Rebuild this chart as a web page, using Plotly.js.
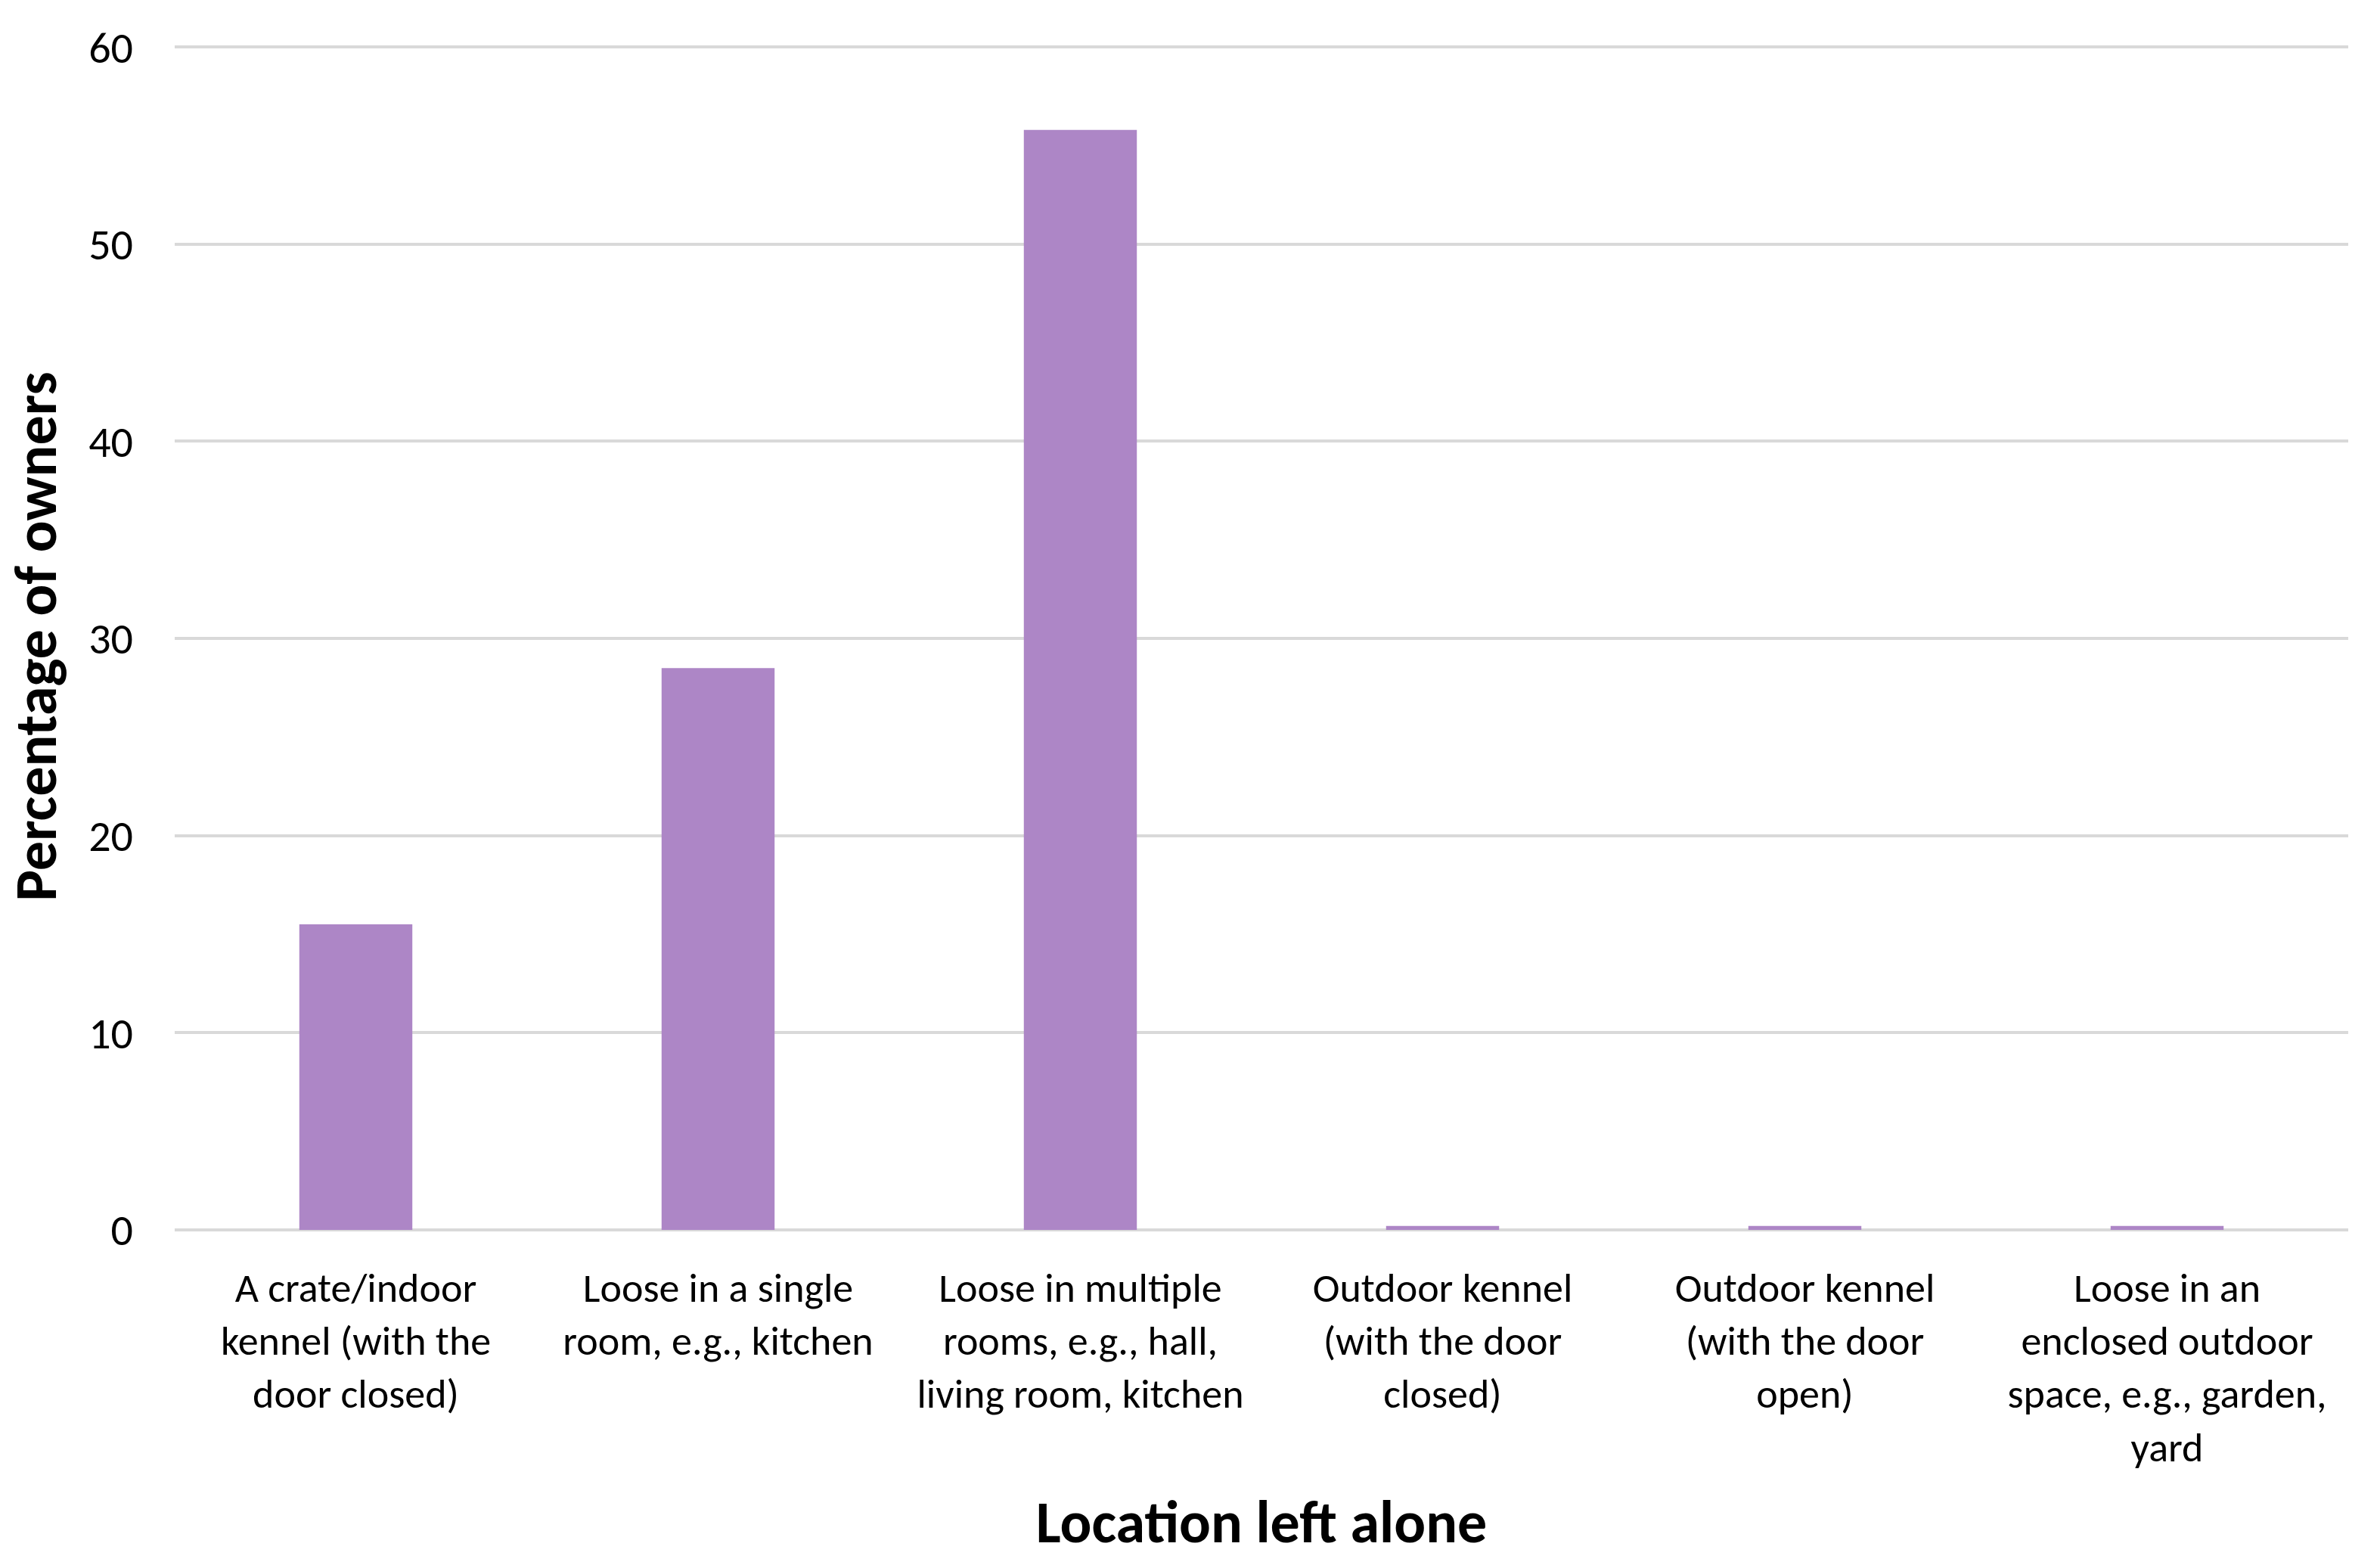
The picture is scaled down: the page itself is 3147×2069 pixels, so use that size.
<!DOCTYPE html>
<html>
<head>
<meta charset="utf-8">
<script src="https://cdn.plot.ly/plotly-3.0.1.min.js"></script>
<style>
  html, body { margin: 0; padding: 0; background: #fff; }
  #plot { width: 3147px; height: 2069px; }
</style>
</head>
<body>
<div id="plot"></div>
<script>
let locations = [
  "A crate/indoor<br>kennel (with the<br>door closed)",
  "Loose in a single<br>room, e.g., kitchen",
  "Loose in multiple<br>rooms, e.g., hall,<br>living room, kitchen",
  "Outdoor kennel<br>(with the door<br>closed)",
  "Outdoor kennel<br>(with the door<br>open)",
  "Loose in an<br>enclosed outdoor<br>space, e.g., garden,<br>yard",
];
let percent_owners = [15.5, 28.5, 55.8, 0.2, 0.2, 0.2];
let y_ticks = [0, 10, 20, 30, 40, 50, 60];

let font_family = "Carlito, Calibri, Lato, 'Open Sans', sans-serif";
let grid_color = "#d9d9d9";

let trace = {
  x: locations,
  y: percent_owners,
  type: "bar",
  marker: { color: "#ad86c6" },
  hoverinfo: "skip",
};

// range slightly above 60 so the top gridline is still drawn
var layout = {
  width: 3147,
  height: 2069,
  margin: { l: 231, r: 42, t: 57, b: 443 },
  paper_bgcolor: "#ffffff",
  plot_bgcolor: "#ffffff",
  bargap: 0.688,
  showlegend: false,
  font: { family: font_family, color: "#000000", size: 52 },
  xaxis: {
    title: {
      text: "Location left alone",
      font: { family: font_family, size: 78, color: "#000000", weight: "bold" },
      standoff: 38,
    },
    tickfont: { family: font_family, size: 54, color: "#000000" },
    ticklabelstandoff: 40,
    showgrid: false,
    showline: false,
    tickangle: 0,
    automargin: false,
  },
  yaxis: {
    title: {
      text: "Percentage of owners",
      font: { family: font_family, size: 78, color: "#000000", weight: "bold" },
      standoff: 40,
    },
    range: [0, 60.2],
    tickvals: y_ticks,
    ticktext: y_ticks.map(String),
    tickfont: { family: font_family, size: 58, color: "#000000" },
    ticklabelstandoff: 54,
    showgrid: true,
    gridcolor: grid_color,
    gridwidth: 4,
    zeroline: true,
    zerolinecolor: grid_color,
    zerolinewidth: 4,
    showline: false,
    automargin: false,
  },
};

Plotly.newPlot("plot", [trace], layout, { displayModeBar: false, staticPlot: true });
</script>
</body>
</html>
